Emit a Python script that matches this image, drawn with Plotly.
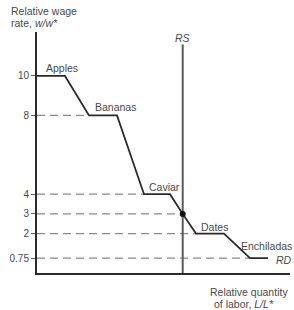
import plotly.graph_objects as go

# Relative demand (RD) step curve: relative quantity of labor vs relative wage
rd_x = [0, 2.8, 5.2, 8.0, 10.7, 13.3, 14.57, 15.9, 18.7, 21.3, 23.1]
rd_y = [10, 10, 8, 8, 4, 4, 3, 2, 2, 0.75, 0.75]

# Goods labels and their positions along the curve
goods = ["Apples", "Bananas", "Caviar", "Dates", "Enchiladas"]
goods_x = [0.7, 5.6, 11.0, 16.2, 20.2]
goods_y = [10.41, 8.43, 4.37, 2.34, 1.37]

# Relative supply (RS) vertical line
rs_x = 14.57
rs_top = 11.6

# Wage levels with dashed reference lines (end x where they meet the curve)
wage_levels = [8, 4, 3, 2, 0.75]
dash_end_x = [5.2, 10.7, 14.57, 15.9, 21.3]

tick_vals = [0.75, 2, 3, 4, 8, 10]
tick_text = ["0.75", "2", "3", "4", "8", "10"]

x_max = 25.3
y_max = 12.23

line_col = "#2a2a2a"
text_col = "#4a4a4a"
font = "Liberation Sans, Arial, sans-serif"

fig = go.Figure()

for lvl, xe in zip(wage_levels, dash_end_x):
    fig.add_trace(go.Scatter(x=[0, xe], y=[lvl, lvl], mode="lines",
                             line=dict(color="#8a8a8a", width=1.3, dash="8px,5px"),
                             hoverinfo="skip", showlegend=False, cliponaxis=False))

fig.add_trace(go.Scatter(x=[rs_x, rs_x], y=[0, rs_top], mode="lines",
                         line=dict(color="#5a5a5a", width=2),
                         showlegend=False, cliponaxis=False))

fig.add_trace(go.Scatter(x=rd_x, y=rd_y, mode="lines",
                         line=dict(color=line_col, width=1.8),
                         showlegend=False, cliponaxis=False))

fig.add_trace(go.Scatter(x=[rs_x], y=[3], mode="markers",
                         marker=dict(color="#111", size=6),
                         showlegend=False, cliponaxis=False))

annotations = []
for g, gx, gy in zip(goods, goods_x, goods_y):
    annotations.append(dict(x=gx, y=gy, text=g, showarrow=False, xanchor="left",
                            yanchor="middle", font=dict(size=10.5, color=text_col, family=font)))

annotations.append(dict(x=rs_x, y=11.93, text="<i>RS</i>", showarrow=False,
                        xanchor="center", yanchor="middle",
                        font=dict(size=10.5, color=text_col, family=font)))
annotations.append(dict(x=24.7, y=0.68, text="<i>RD</i>", showarrow=False,
                        xanchor="center", yanchor="middle",
                        font=dict(size=10.5, color=text_col, family=font)))

title_font = dict(size=10.5, color=text_col, family=font)
annotations.append(dict(xref="paper", yref="paper", x=-0.111, y=1.0, yshift=21,
                        text="Relative wage", showarrow=False,
                        xanchor="left", yanchor="middle", font=title_font))
annotations.append(dict(xref="paper", yref="paper", x=-0.111, y=1.0, yshift=9,
                        text="rate, <i>w/w*</i>", showarrow=False,
                        xanchor="left", yanchor="middle", font=title_font))
annotations.append(dict(xref="paper", yref="paper", x=1.0, y=0, yshift=-19,
                        text="Relative quantity", showarrow=False,
                        xanchor="right", yanchor="middle", font=title_font))
annotations.append(dict(xref="paper", yref="paper", x=0.6925, y=0, yshift=-31,
                        text="of labor, <i>L/L*</i>", showarrow=False,
                        xanchor="left", yanchor="middle", font=title_font))

fig.update_layout(
    width=294, height=310,
    margin=dict(l=37, r=4, t=32, b=37),
    paper_bgcolor="white", plot_bgcolor="white",
    xaxis=dict(range=[0, x_max], showgrid=False, zeroline=False, showticklabels=False,
               showline=True, linecolor=line_col, linewidth=2, ticks=""),
    yaxis=dict(range=[0, y_max], showgrid=False, zeroline=False,
               showline=True, linecolor=line_col, linewidth=2,
               tickvals=tick_vals, ticktext=tick_text, ticks="outside", ticklen=4,
               tickcolor="#666", tickwidth=1,
               tickfont=dict(size=10, color=text_col, family=font)),
    annotations=annotations,
)

fig.write_html("out.html", config={"displayModeBar": False},
               post_script="document.body.style.margin='0px';")
